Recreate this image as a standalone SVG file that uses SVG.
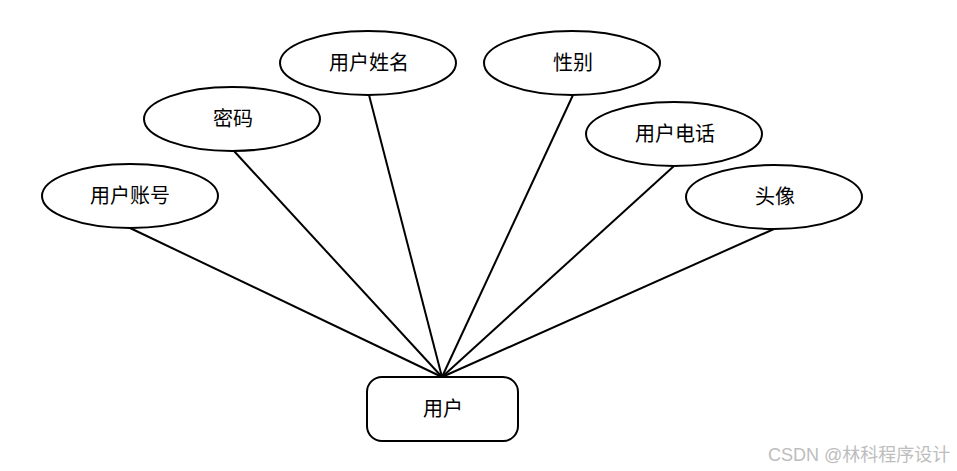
<svg xmlns="http://www.w3.org/2000/svg" width="957" height="471" viewBox="0 0 957 471">
<style>
.n{fill:#fff;stroke:#000;stroke-width:2}
.t{font-family:"Liberation Serif","Noto Sans CJK SC",serif;font-size:20px;fill:#000;text-anchor:middle;dominant-baseline:central}
.e{stroke:#000;stroke-width:2;fill:none}
.w{font-family:"Liberation Sans","Noto Sans CJK SC",sans-serif;font-size:18px;fill:#bdbdbd}
</style>
<rect width="957" height="471" fill="#fff"/>
<g id="connectors">
<line class="e" x1="130" y1="228" x2="442" y2="377"/>
<line class="e" x1="234" y1="151" x2="442" y2="377"/>
<line class="e" x1="369" y1="95" x2="442" y2="377"/>
<line class="e" x1="573" y1="95" x2="442" y2="377"/>
<line class="e" x1="674" y1="166" x2="442" y2="377"/>
<line class="e" x1="774" y1="229" x2="442" y2="377"/>
</g>
<g id="zhanghao">
<ellipse class="n" cx="130" cy="196" rx="88" ry="32"/>
<text class="t" x="130" y="196">用户账号</text>
</g>
<g id="mima">
<ellipse class="n" cx="232" cy="119" rx="88" ry="32"/>
<text class="t" x="233" y="119">密码</text>
</g>
<g id="xingming">
<ellipse class="n" cx="368" cy="63" rx="88" ry="32"/>
<text class="t" x="369" y="63">用户姓名</text>
</g>
<g id="xingbie">
<ellipse class="n" cx="572" cy="63" rx="88" ry="32"/>
<text class="t" x="573" y="63">性别</text>
</g>
<g id="dianhua">
<ellipse class="n" cx="674" cy="134" rx="88" ry="32"/>
<text class="t" x="675" y="134">用户电话</text>
</g>
<g id="touxiang">
<ellipse class="n" cx="774" cy="197" rx="88" ry="32"/>
<text class="t" x="775" y="197">头像</text>
</g>
<g id="yonghu">
<rect class="n" x="367" y="377" width="151" height="64" rx="15"/>
<text class="t" x="443" y="409">用户</text>
</g>
<text class="w" x="768" y="461">CSDN @林科程序设计</text>
</svg>
